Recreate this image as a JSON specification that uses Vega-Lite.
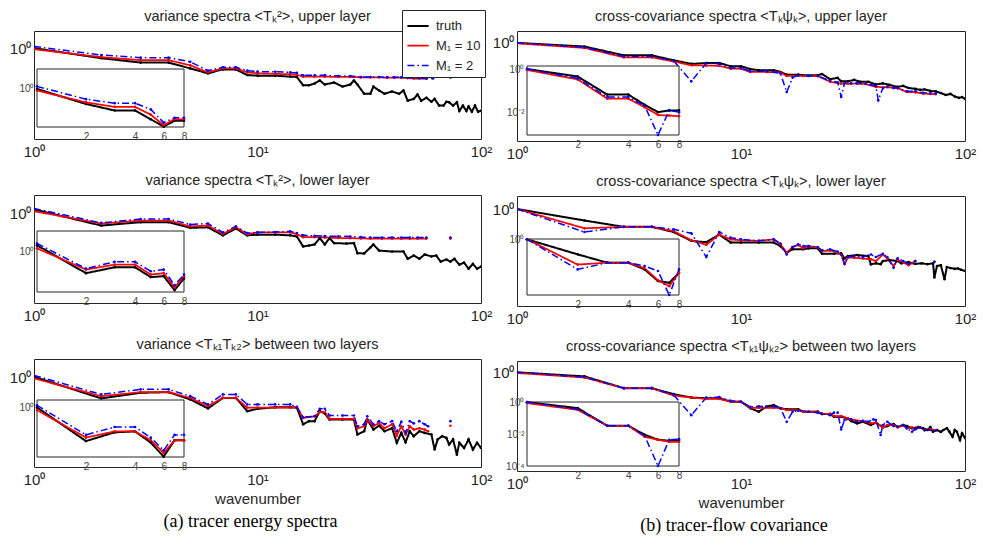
{
"$schema":"https://vega.github.io/schema/vega-lite/v6.json",
"padding":{"left":8,"top":8,"right":2,"bottom":2},
"bounds":"full",
"spacing":-2,
"config":{"font":"Liberation Sans","view":{"stroke":"#262626","strokeWidth":1},
"axis":{"grid":false,"domain":false,"ticks":false,"labelColor":"#262626","titleColor":"#262626","titleFontWeight":"normal","labelFlush":false,"labelOverlap":false},
"title":{"fontSize":14.5,"fontWeight":"normal","color":"#262626","offset":7},
"legend":{"labelColor":"#262626","symbolType":"stroke","symbolSize":450,"symbolStrokeWidth":2}},
"datasets":{
"d1":[{"s":"t","k":1,"v":1},{"s":"t","k":2,"v":0.26},{"s":"t","k":3,"v":0.145},{"s":"t","k":4,"v":0.145},{"s":"t","k":5,"v":0.066},{"s":"t","k":6,"v":0.034},{"s":"t","k":7,"v":0.058},{"s":"t","k":8,"v":0.058},{"s":"t","k":9,"v":0.027},{"s":"t","k":10,"v":0.025},{"s":"t","k":12,"v":0.025},{"s":"t","k":14,"v":0.022},{"s":"t","k":15,"v":0.021},{"s":"t","k":16,"v":0.0069},{"s":"t","k":17,"v":0.0069},{"s":"t","k":18,"v":0.0087},{"s":"t","k":19,"v":0.013},{"s":"t","k":20,"v":0.0076},{"s":"t","k":22,"v":0.01},{"s":"t","k":24,"v":0.0058},{"s":"t","k":26,"v":0.0076},{"s":"t","k":27,"v":0.013},{"s":"t","k":28,"v":0.0076},{"s":"t","k":30,"v":0.0022},{"s":"t","k":32,"v":0.0022},{"s":"t","k":33,"v":0.0058},{"s":"t","k":35,"v":0.0034},{"s":"t","k":37,"v":0.0022},{"s":"t","k":40,"v":0.003},{"s":"t","k":43,"v":0.0022},{"s":"t","k":45,"v":0.0034},{"s":"t","k":47,"v":0.00087},{"s":"t","k":50,"v":0.0011},{"s":"t","k":52,"v":0.002},{"s":"t","k":54,"v":0.00087},{"s":"t","k":57,"v":0.0013},{"s":"t","k":60,"v":0.00076},{"s":"t","k":62,"v":0.0011},{"s":"t","k":65,"v":0.00045},{"s":"t","k":68,"v":0.00045},{"s":"t","k":70,"v":0.00076},{"s":"t","k":72,"v":0.0007},{"s":"t","k":75,"v":0.00045},{"s":"t","k":78,"v":0.0007},{"s":"t","k":80,"v":0.00022},{"s":"t","k":83,"v":0.00045},{"s":"t","k":86,"v":0.00022},{"s":"t","k":88,"v":0.0004},{"s":"t","k":91,"v":0.0002},{"s":"t","k":94,"v":0.00045},{"s":"t","k":97,"v":0.0002},{"s":"t","k":100,"v":0.00022},
{"s":"a","k":1,"v":0.87},{"s":"a","k":2,"v":0.3},{"s":"a","k":3,"v":0.2},{"s":"a","k":4,"v":0.2},{"s":"a","k":5,"v":0.1},{"s":"a","k":6,"v":0.039},{"s":"a","k":7,"v":0.066},{"s":"a","k":8,"v":0.066},{"s":"a","k":9,"v":0.039},{"s":"a","k":10,"v":0.034},{"s":"a","k":12,"v":0.032},{"s":"a","k":14,"v":0.03},{"s":"a","k":15,"v":0.028},{"s":"a","k":16,"v":0.022},{"s":"a","k":18,"v":0.022},{"s":"a","k":20,"v":0.022},{"s":"a","k":23,"v":0.021},{"s":"a","k":26,"v":0.021},{"s":"a","k":29,"v":0.02},{"s":"a","k":32,"v":0.02},{"s":"a","k":35,"v":0.02},{"s":"a","k":38,"v":0.019},{"s":"a","k":41,"v":0.019},{"s":"a","k":44,"v":0.019},{"s":"a","k":47,"v":0.018},{"s":"a","k":50,"v":0.017},{"s":"a","k":53,"v":0.017},{"s":"a","k":57,"v":0.017},{"s":"a","k":73,"v":0.02,"g":1},
{"s":"b","k":1,"v":1.26},{"s":"b","k":2,"v":0.4},{"s":"b","k":3,"v":0.28},{"s":"b","k":4,"v":0.28},{"s":"b","k":5,"v":0.16},{"s":"b","k":6,"v":0.049},{"s":"b","k":7,"v":0.076},{"s":"b","k":8,"v":0.076},{"s":"b","k":9,"v":0.049},{"s":"b","k":10,"v":0.043},{"s":"b","k":12,"v":0.042},{"s":"b","k":14,"v":0.039},{"s":"b","k":15,"v":0.036},{"s":"b","k":16,"v":0.026},{"s":"b","k":18,"v":0.026},{"s":"b","k":20,"v":0.026},{"s":"b","k":23,"v":0.024},{"s":"b","k":26,"v":0.024},{"s":"b","k":29,"v":0.021},{"s":"b","k":32,"v":0.021},{"s":"b","k":35,"v":0.021},{"s":"b","k":38,"v":0.02},{"s":"b","k":41,"v":0.02},{"s":"b","k":44,"v":0.02},{"s":"b","k":47,"v":0.019},{"s":"b","k":50,"v":0.019},{"s":"b","k":53,"v":0.018},{"s":"b","k":57,"v":0.017},{"s":"b","k":61,"v":0.017},{"s":"b","k":73,"v":0.02,"g":1}],
"d2":[{"s":"t","k":1,"v":1.65},{"s":"t","k":2,"v":0.19},{"s":"t","k":3,"v":0.3},{"s":"t","k":4,"v":0.3},{"s":"t","k":5,"v":0.14},{"s":"t","k":6,"v":0.15},{"s":"t","k":7,"v":0.051},{"s":"t","k":8,"v":0.126},{"s":"t","k":9,"v":0.051},{"s":"t","k":10,"v":0.056},{"s":"t","k":12,"v":0.056},{"s":"t","k":14,"v":0.051},{"s":"t","k":15,"v":0.044},{"s":"t","k":16,"v":0.0115},{"s":"t","k":17,"v":0.013},{"s":"t","k":18,"v":0.015},{"s":"t","k":19,"v":0.035},{"s":"t","k":20,"v":0.015},{"s":"t","k":21,"v":0.035},{"s":"t","k":22,"v":0.018},{"s":"t","k":25,"v":0.017},{"s":"t","k":27,"v":0.018},{"s":"t","k":28,"v":0.0046},{"s":"t","k":30,"v":0.0045},{"s":"t","k":32,"v":0.01},{"s":"t","k":33,"v":0.015},{"s":"t","k":35,"v":0.0066},{"s":"t","k":40,"v":0.0058},{"s":"t","k":45,"v":0.0058},{"s":"t","k":47,"v":0.0022},{"s":"t","k":50,"v":0.0034},{"s":"t","k":53,"v":0.0022},{"s":"t","k":56,"v":0.0039},{"s":"t","k":60,"v":0.003},{"s":"t","k":63,"v":0.0034},{"s":"t","k":66,"v":0.0015},{"s":"t","k":70,"v":0.002},{"s":"t","k":73,"v":0.0015},{"s":"t","k":76,"v":0.0022},{"s":"t","k":80,"v":0.001},{"s":"t","k":84,"v":0.0013},{"s":"t","k":88,"v":0.00058},{"s":"t","k":92,"v":0.0011},{"s":"t","k":96,"v":0.00058},{"s":"t","k":100,"v":0.00076},
{"s":"a","k":1,"v":1.3},{"s":"a","k":2,"v":0.25},{"s":"a","k":3,"v":0.37},{"s":"a","k":4,"v":0.37},{"s":"a","k":5,"v":0.17},{"s":"a","k":6,"v":0.19},{"s":"a","k":7,"v":0.062},{"s":"a","k":8,"v":0.15},{"s":"a","k":9,"v":0.06},{"s":"a","k":10,"v":0.076},{"s":"a","k":12,"v":0.076},{"s":"a","k":14,"v":0.076},{"s":"a","k":15,"v":0.06},{"s":"a","k":16,"v":0.04},{"s":"a","k":18,"v":0.04},{"s":"a","k":20,"v":0.038},{"s":"a","k":23,"v":0.036},{"s":"a","k":26,"v":0.035},{"s":"a","k":29,"v":0.034},{"s":"a","k":32,"v":0.033},{"s":"a","k":36,"v":0.033},{"s":"a","k":40,"v":0.033},{"s":"a","k":44,"v":0.033},{"s":"a","k":48,"v":0.033},{"s":"a","k":52,"v":0.033},{"s":"a","k":57,"v":0.033},{"s":"a","k":73,"v":0.033,"g":1},
{"s":"b","k":1,"v":1.9},{"s":"b","k":2,"v":0.27},{"s":"b","k":3,"v":0.46},{"s":"b","k":4,"v":0.46},{"s":"b","k":5,"v":0.22},{"s":"b","k":6,"v":0.25},{"s":"b","k":7,"v":0.075},{"s":"b","k":8,"v":0.17},{"s":"b","k":9,"v":0.069},{"s":"b","k":10,"v":0.076},{"s":"b","k":12,"v":0.08},{"s":"b","k":14,"v":0.087},{"s":"b","k":15,"v":0.07},{"s":"b","k":16,"v":0.051},{"s":"b","k":18,"v":0.048},{"s":"b","k":20,"v":0.046},{"s":"b","k":23,"v":0.045},{"s":"b","k":26,"v":0.044},{"s":"b","k":29,"v":0.04},{"s":"b","k":32,"v":0.038},{"s":"b","k":36,"v":0.038},{"s":"b","k":40,"v":0.038},{"s":"b","k":44,"v":0.038},{"s":"b","k":48,"v":0.038},{"s":"b","k":52,"v":0.038},{"s":"b","k":57,"v":0.038},{"s":"b","k":73,"v":0.038,"g":1}],
"d3":[{"s":"t","k":1,"v":1.05},{"s":"t","k":2,"v":0.056},{"s":"t","k":3,"v":0.12},{"s":"t","k":4,"v":0.13},{"s":"t","k":5,"v":0.049},{"s":"t","k":6,"v":0.0145},{"s":"t","k":7,"v":0.06},{"s":"t","k":8,"v":0.06},{"s":"t","k":9,"v":0.01},{"s":"t","k":10,"v":0.0137},{"s":"t","k":12,"v":0.017},{"s":"t","k":14,"v":0.017},{"s":"t","k":15,"v":0.016},{"s":"t","k":16,"v":0.0017},{"s":"t","k":17,"v":0.0026},{"s":"t","k":18,"v":0.0026},{"s":"t","k":19,"v":0.01},{"s":"t","k":20,"v":0.0073},{"s":"t","k":21,"v":0.0032},{"s":"t","k":24,"v":0.0032},{"s":"t","k":27,"v":0.0032},{"s":"t","k":28,"v":0.00043},{"s":"t","k":30,"v":0.00066},{"s":"t","k":31,"v":0.0032},{"s":"t","k":33,"v":0.00083},{"s":"t","k":35,"v":0.0014},{"s":"t","k":37,"v":0.00066},{"s":"t","k":40,"v":0.001},{"s":"t","k":42,"v":0.00014},{"s":"t","k":44,"v":0.00053},{"s":"t","k":46,"v":0.00015},{"s":"t","k":48,"v":0.00066},{"s":"t","k":50,"v":0.00034},{"s":"t","k":53,"v":0.00066},{"s":"t","k":56,"v":0.00053},{"s":"t","k":60,"v":0.00043},{"s":"t","k":62,"v":0.000056},{"s":"t","k":64,"v":0.00022},{"s":"t","k":67,"v":0.00034},{"s":"t","k":70,"v":0.00027},{"s":"t","k":72,"v":0.00011},{"s":"t","k":75,"v":0.00022},{"s":"t","k":78,"v":0.000028},{"s":"t","k":80,"v":0.00014},{"s":"t","k":84,"v":0.000069},{"s":"t","k":88,"v":0.00022},{"s":"t","k":92,"v":0.000056},{"s":"t","k":96,"v":0.00014},{"s":"t","k":100,"v":0.000069},
{"s":"a","k":1,"v":0.83},{"s":"a","k":2,"v":0.076},{"s":"a","k":3,"v":0.13},{"s":"a","k":4,"v":0.13},{"s":"a","k":5,"v":0.06},{"s":"a","k":6,"v":0.02},{"s":"a","k":7,"v":0.06},{"s":"a","k":8,"v":0.06},{"s":"a","k":9,"v":0.016},{"s":"a","k":10,"v":0.016},{"s":"a","k":12,"v":0.016},{"s":"a","k":14,"v":0.016},{"s":"a","k":15,"v":0.017},{"s":"a","k":16,"v":0.004},{"s":"a","k":18,"v":0.005},{"s":"a","k":19,"v":0.0087},{"s":"a","k":20,"v":0.0087},{"s":"a","k":21,"v":0.0035},{"s":"a","k":24,"v":0.0035},{"s":"a","k":27,"v":0.0035},{"s":"a","k":28,"v":0.001},{"s":"a","k":30,"v":0.0013},{"s":"a","k":31,"v":0.0032},{"s":"a","k":33,"v":0.0013},{"s":"a","k":35,"v":0.002},{"s":"a","k":37,"v":0.001},{"s":"a","k":40,"v":0.0017},{"s":"a","k":42,"v":0.00037},{"s":"a","k":44,"v":0.0013},{"s":"a","k":46,"v":0.00043},{"s":"a","k":48,"v":0.0013},{"s":"a","k":50,"v":0.00083},{"s":"a","k":53,"v":0.001},{"s":"a","k":56,"v":0.00083},{"s":"a","k":58,"v":0.00066},{"s":"a","k":73,"v":0.0014,"g":1},
{"s":"b","k":1,"v":1.26},{"s":"b","k":2,"v":0.096},{"s":"b","k":3,"v":0.19},{"s":"b","k":4,"v":0.19},{"s":"b","k":5,"v":0.076},{"s":"b","k":6,"v":0.025},{"s":"b","k":7,"v":0.096},{"s":"b","k":8,"v":0.096},{"s":"b","k":9,"v":0.025},{"s":"b","k":10,"v":0.025},{"s":"b","k":12,"v":0.025},{"s":"b","k":14,"v":0.025},{"s":"b","k":15,"v":0.018},{"s":"b","k":16,"v":0.0044},{"s":"b","k":18,"v":0.005},{"s":"b","k":19,"v":0.0137},{"s":"b","k":20,"v":0.0137},{"s":"b","k":21,"v":0.0056},{"s":"b","k":24,"v":0.0056},{"s":"b","k":27,"v":0.0056},{"s":"b","k":28,"v":0.0013},{"s":"b","k":30,"v":0.0017},{"s":"b","k":31,"v":0.005},{"s":"b","k":33,"v":0.0017},{"s":"b","k":35,"v":0.0026},{"s":"b","k":37,"v":0.0017},{"s":"b","k":40,"v":0.0026},{"s":"b","k":42,"v":0.00066},{"s":"b","k":44,"v":0.0024},{"s":"b","k":46,"v":0.00053},{"s":"b","k":48,"v":0.0026},{"s":"b","k":50,"v":0.0019},{"s":"b","k":53,"v":0.0026},{"s":"b","k":56,"v":0.0017},{"s":"b","k":58,"v":0.0013},{"s":"b","k":73,"v":0.0026,"g":1}],
"d4":[{"s":"t","k":1,"v":1},{"s":"t","k":2,"v":0.45},{"s":"t","k":3,"v":0.065},{"s":"t","k":4,"v":0.065},{"s":"t","k":5,"v":0.022},{"s":"t","k":6,"v":0.01},{"s":"t","k":7,"v":0.012},{"s":"t","k":8,"v":0.012},{"s":"t","k":9,"v":0.006},{"s":"t","k":10,"v":0.006},{"s":"t","k":11,"v":0.0032},{"s":"t","k":12,"v":0.0025},{"s":"t","k":14,"v":0.0025},{"s":"t","k":15,"v":0.0017},{"s":"t","k":16,"v":0.00095},{"s":"t","k":18,"v":0.00095},{"s":"t","k":19,"v":0.00083},{"s":"t","k":22,"v":0.00083},{"s":"t","k":23,"v":0.0011},{"s":"t","k":25,"v":0.00035},{"s":"t","k":27,"v":0.00047},{"s":"t","k":28,"v":0.00022},{"s":"t","k":30,"v":0.00022},{"s":"t","k":32,"v":0.0003},{"s":"t","k":34,"v":0.0002},{"s":"t","k":37,"v":0.0002},{"s":"t","k":40,"v":0.00011},{"s":"t","k":43,"v":0.00014},{"s":"t","k":46,"v":0.0001},{"s":"t","k":50,"v":0.000065},{"s":"t","k":53,"v":0.00008},{"s":"t","k":56,"v":0.000051},{"s":"t","k":60,"v":0.000042},{"s":"t","k":63,"v":0.000034},{"s":"t","k":66,"v":0.000037},{"s":"t","k":70,"v":0.000027},{"s":"t","k":74,"v":0.000024},{"s":"t","k":78,"v":0.000017},{"s":"t","k":82,"v":0.000011},{"s":"t","k":86,"v":0.000014},{"s":"t","k":90,"v":0.0000079},{"s":"t","k":94,"v":0.0000058},{"s":"t","k":97,"v":0.0000069},{"s":"t","k":100,"v":0.0000047},
{"s":"a","k":1,"v":0.9},{"s":"a","k":2,"v":0.33},{"s":"a","k":3,"v":0.042},{"s":"a","k":4,"v":0.042},{"s":"a","k":5,"v":0.017},{"s":"a","k":6,"v":0.0074},{"s":"a","k":7,"v":0.0069},{"s":"a","k":8,"v":0.0065},{"s":"a","k":9,"v":0.0035},{"s":"a","k":10,"v":0.0035},{"s":"a","k":11,"v":0.0017},{"s":"a","k":13,"v":0.0017},{"s":"a","k":15,"v":0.0015},{"s":"a","k":16,"v":0.00072},{"s":"a","k":19,"v":0.00072},{"s":"a","k":22,"v":0.0007},{"s":"a","k":25,"v":0.0002},{"s":"a","k":28,"v":0.00013},{"s":"a","k":30,"v":0.00013},{"s":"a","k":33,"v":0.00013},{"s":"a","k":36,"v":0.00012},{"s":"a","k":40,"v":0.000065},{"s":"a","k":45,"v":0.00006},{"s":"a","k":50,"v":0.00005},{"s":"a","k":55,"v":0.000021},{"s":"a","k":60,"v":0.00002},{"s":"a","k":65,"v":0.000015},{"s":"a","k":70,"v":0.000014},{"s":"a","k":74,"v":0.000013},
{"s":"b","k":1,"v":1},{"s":"b","k":2,"v":0.37},{"s":"b","k":3,"v":0.05},{"s":"b","k":4,"v":0.05},{"s":"b","k":5,"v":0.02},{"s":"b","k":6,"v":0.00022},{"s":"b","k":7,"v":0.012},{"s":"b","k":8,"v":0.01},{"s":"b","k":9,"v":0.004},{"s":"b","k":10,"v":0.004},{"s":"b","k":11,"v":0.002},{"s":"b","k":13,"v":0.002},{"s":"b","k":14,"v":0.0017},{"s":"b","k":15,"v":0.0012},{"s":"b","k":16,"v":0.000021},{"s":"b","k":17,"v":0.0005},{"s":"b","k":18,"v":0.0008},{"s":"b","k":20,"v":0.0007},{"s":"b","k":22,"v":0.0007},{"s":"b","k":25,"v":0.00025},{"s":"b","k":27,"v":0.00018},{"s":"b","k":28,"v":0.0000072},{"s":"b","k":29,"v":0.00015},{"s":"b","k":31,"v":0.00014},{"s":"b","k":33,"v":0.00015},{"s":"b","k":36,"v":0.00013},{"s":"b","k":38,"v":0.0001},{"s":"b","k":40,"v":0.00008},{"s":"b","k":41,"v":0.0000035},{"s":"b","k":43,"v":0.00005},{"s":"b","k":45,"v":0.00007},{"s":"b","k":48,"v":0.00005},{"s":"b","k":50,"v":0.00005},{"s":"b","k":55,"v":0.000025},{"s":"b","k":60,"v":0.000025},{"s":"b","k":65,"v":0.000018},{"s":"b","k":70,"v":0.000016},{"s":"b","k":74,"v":0.000015}],
"d5":[{"s":"t","k":1,"v":1},{"s":"t","k":2,"v":0.1},{"s":"t","k":3,"v":0.028},{"s":"t","k":4,"v":0.028},{"s":"t","k":5,"v":0.01},{"s":"t","k":6,"v":0.0017},{"s":"t","k":7,"v":0.0013},{"s":"t","k":8,"v":0.0059},{"s":"t","k":9,"v":0.0012},{"s":"t","k":10,"v":0.0012},{"s":"t","k":12,"v":0.0012},{"s":"t","k":14,"v":0.0012},{"s":"t","k":15,"v":0.0006},{"s":"t","k":16,"v":0.00016},{"s":"t","k":17,"v":0.00032},{"s":"t","k":19,"v":0.00032},{"s":"t","k":20,"v":0.00038},{"s":"t","k":22,"v":0.00038},{"s":"t","k":23,"v":0.00013},{"s":"t","k":26,"v":0.00013},{"s":"t","k":28,"v":0.00014},{"s":"t","k":29,"v":0.000051},{"s":"t","k":30,"v":0.000081},{"s":"t","k":33,"v":0.0001},{"s":"t","k":37,"v":0.000081},{"s":"t","k":38,"v":0.0000155},{"s":"t","k":40,"v":0.000019},{"s":"t","k":42,"v":0.000016},{"s":"t","k":43,"v":0.00003},{"s":"t","k":46,"v":0.000036},{"s":"t","k":50,"v":0.00003},{"s":"t","k":52,"v":0.000019},{"s":"t","k":56,"v":0.000024},{"s":"t","k":60,"v":0.000017},{"s":"t","k":64,"v":0.000019},{"s":"t","k":68,"v":0.000016},{"s":"t","k":72,"v":0.000019},{"s":"t","k":73,"v":0.0000011},{"s":"t","k":75,"v":0.000011},{"s":"t","k":78,"v":0.000013},{"s":"t","k":81,"v":0.00000078},{"s":"t","k":83,"v":0.0000091},{"s":"t","k":86,"v":0.0000074},{"s":"t","k":90,"v":0.0000063},{"s":"t","k":93,"v":0.0000068},{"s":"t","k":96,"v":0.0000052},{"s":"t","k":100,"v":0.0000041},
{"s":"a","k":1,"v":1},{"s":"a","k":2,"v":0.021},{"s":"a","k":3,"v":0.028},{"s":"a","k":4,"v":0.028},{"s":"a","k":5,"v":0.012},{"s":"a","k":6,"v":0.0019},{"s":"a","k":7,"v":0.00077},{"s":"a","k":8,"v":0.0059},{"s":"a","k":9,"v":0.0023},{"s":"a","k":10,"v":0.0019},{"s":"a","k":12,"v":0.0017},{"s":"a","k":14,"v":0.0023},{"s":"a","k":15,"v":0.00085},{"s":"a","k":16,"v":0.00016},{"s":"a","k":17,"v":0.0005},{"s":"a","k":18,"v":0.00074},{"s":"a","k":19,"v":0.00038},{"s":"a","k":20,"v":0.0006},{"s":"a","k":22,"v":0.00045},{"s":"a","k":23,"v":0.00022},{"s":"a","k":25,"v":0.00025},{"s":"a","k":27,"v":0.00016},{"s":"a","k":28,"v":0.00011},{"s":"a","k":29,"v":0.000017},{"s":"a","k":30,"v":0.000058},{"s":"a","k":32,"v":0.000058},{"s":"a","k":35,"v":0.00005},{"s":"a","k":38,"v":0.000043},{"s":"a","k":40,"v":0.00003},{"s":"a","k":43,"v":0.00011},{"s":"a","k":45,"v":0.000051},{"s":"a","k":48,"v":0.000011},{"s":"a","k":50,"v":0.000038},{"s":"a","k":53,"v":0.000022},{"s":"a","k":56,"v":0.000013},{"s":"a","k":60,"v":0.00003},{"s":"a","k":73,"v":0.000026,"g":1},
{"s":"b","k":1,"v":1},{"s":"b","k":2,"v":0.01},{"s":"b","k":3,"v":0.028},{"s":"b","k":4,"v":0.028},{"s":"b","k":5,"v":0.017},{"s":"b","k":6,"v":0.0078},{"s":"b","k":7,"v":0.000067},{"s":"b","k":8,"v":0.01},{"s":"b","k":9,"v":0.0032},{"s":"b","k":10,"v":0.0023},{"s":"b","k":12,"v":0.0017},{"s":"b","k":14,"v":0.0023},{"s":"b","k":15,"v":0.001},{"s":"b","k":16,"v":0.00011},{"s":"b","k":17,"v":0.0005},{"s":"b","k":18,"v":0.00085},{"s":"b","k":19,"v":0.0006},{"s":"b","k":20,"v":0.0006},{"s":"b","k":22,"v":0.0005},{"s":"b","k":23,"v":0.00025},{"s":"b","k":25,"v":0.00031},{"s":"b","k":27,"v":0.0002},{"s":"b","k":28,"v":0.00011},{"s":"b","k":29,"v":0.000017},{"s":"b","k":30,"v":0.000067},{"s":"b","k":32,"v":0.000081},{"s":"b","k":35,"v":0.000067},{"s":"b","k":38,"v":0.00011},{"s":"b","k":40,"v":0.000067},{"s":"b","k":43,"v":0.00013},{"s":"b","k":45,"v":0.000067},{"s":"b","k":48,"v":0.0000078},{"s":"b","k":50,"v":0.000051},{"s":"b","k":53,"v":0.00003},{"s":"b","k":56,"v":0.000017},{"s":"b","k":60,"v":0.00003},{"s":"b","k":73,"v":0.000026,"g":1}],
"d6":[{"s":"t","k":1,"v":1},{"s":"t","k":2,"v":0.42},{"s":"t","k":3,"v":0.033},{"s":"t","k":4,"v":0.033},{"s":"t","k":5,"v":0.0091},{"s":"t","k":6,"v":0.0044},{"s":"t","k":7,"v":0.0038},{"s":"t","k":8,"v":0.0038},{"s":"t","k":9,"v":0.0018},{"s":"t","k":10,"v":0.0018},{"s":"t","k":11,"v":0.00044},{"s":"t","k":12,"v":0.00021},{"s":"t","k":13,"v":0.00062},{"s":"t","k":14,"v":0.00088},{"s":"t","k":15,"v":0.00044},{"s":"t","k":16,"v":0.00035},{"s":"t","k":18,"v":0.00035},{"s":"t","k":19,"v":0.00021},{"s":"t","k":22,"v":0.00021},{"s":"t","k":23,"v":0.00013},{"s":"t","k":25,"v":0.00013},{"s":"t","k":26,"v":0.00007},{"s":"t","k":28,"v":0.00007},{"s":"t","k":30,"v":0.00005},{"s":"t","k":31,"v":0.000028},{"s":"t","k":33,"v":0.000017},{"s":"t","k":35,"v":0.000024},{"s":"t","k":38,"v":0.000012},{"s":"t","k":40,"v":0.00002},{"s":"t","k":43,"v":0.0000072},{"s":"t","k":45,"v":0.0000095},{"s":"t","k":48,"v":0.000015},{"s":"t","k":50,"v":0.0000076},{"s":"t","k":53,"v":0.000012},{"s":"t","k":55,"v":0.0000095},{"s":"t","k":58,"v":0.0000059},{"s":"t","k":62,"v":0.0000076},{"s":"t","k":65,"v":0.0000059},{"s":"t","k":68,"v":0.0000041},{"s":"t","k":70,"v":0.0000076},{"s":"t","k":72,"v":0.0000028},{"s":"t","k":75,"v":0.0000041},{"s":"t","k":78,"v":0.0000027},{"s":"t","k":80,"v":0.0000041},{"s":"t","k":83,"v":0.0000059},{"s":"t","k":85,"v":0.000003},{"s":"t","k":88,"v":0.00000095},{"s":"t","k":90,"v":0.0000041},{"s":"t","k":92,"v":0.0000028},{"s":"t","k":95,"v":0.00000047},{"s":"t","k":97,"v":0.000002},{"s":"t","k":100,"v":0.00000072},
{"s":"a","k":1,"v":0.87},{"s":"a","k":2,"v":0.33},{"s":"a","k":3,"v":0.033},{"s":"a","k":4,"v":0.033},{"s":"a","k":5,"v":0.0068},{"s":"a","k":6,"v":0.0044},{"s":"a","k":7,"v":0.0033},{"s":"a","k":8,"v":0.0033},{"s":"a","k":9,"v":0.0018},{"s":"a","k":10,"v":0.0018},{"s":"a","k":11,"v":0.00049},{"s":"a","k":12,"v":0.00049},{"s":"a","k":14,"v":0.00049},{"s":"a","k":15,"v":0.00044},{"s":"a","k":16,"v":0.0003},{"s":"a","k":18,"v":0.0003},{"s":"a","k":19,"v":0.00021},{"s":"a","k":22,"v":0.00021},{"s":"a","k":23,"v":0.00013},{"s":"a","k":25,"v":0.00013},{"s":"a","k":26,"v":0.000082},{"s":"a","k":28,"v":0.000082},{"s":"a","k":30,"v":0.00005},{"s":"a","k":32,"v":0.000035},{"s":"a","k":35,"v":0.000028},{"s":"a","k":38,"v":0.000017},{"s":"a","k":40,"v":0.00002},{"s":"a","k":43,"v":0.0000072},{"s":"a","k":45,"v":0.000012},{"s":"a","k":48,"v":0.000011},{"s":"a","k":50,"v":0.0000072},{"s":"a","k":53,"v":0.000011},{"s":"a","k":55,"v":0.0000059},{"s":"a","k":58,"v":0.0000072},{"s":"a","k":60,"v":0.0000049},{"s":"a","k":63,"v":0.0000072},{"s":"a","k":66,"v":0.0000041},{"s":"a","k":70,"v":0.0000049},{"s":"a","k":74,"v":0.0000038},
{"s":"b","k":1,"v":1},{"s":"b","k":2,"v":0.36},{"s":"b","k":3,"v":0.033},{"s":"b","k":4,"v":0.033},{"s":"b","k":5,"v":0.0079},{"s":"b","k":6,"v":0.0001},{"s":"b","k":7,"v":0.0044},{"s":"b","k":8,"v":0.0048},{"s":"b","k":9,"v":0.0022},{"s":"b","k":10,"v":0.0018},{"s":"b","k":11,"v":0.0006},{"s":"b","k":12,"v":0.00066},{"s":"b","k":13,"v":0.0006},{"s":"b","k":14,"v":0.00066},{"s":"b","k":15,"v":0.00044},{"s":"b","k":16,"v":0.000024},{"s":"b","k":17,"v":0.00021},{"s":"b","k":18,"v":0.00026},{"s":"b","k":20,"v":0.00021},{"s":"b","k":22,"v":0.00017},{"s":"b","k":23,"v":0.00013},{"s":"b","k":25,"v":0.0001},{"s":"b","k":26,"v":0.00017},{"s":"b","k":27,"v":0.00017},{"s":"b","k":28,"v":0.0000047},{"s":"b","k":29,"v":0.000035},{"s":"b","k":31,"v":0.00004},{"s":"b","k":33,"v":0.000024},{"s":"b","k":35,"v":0.00003},{"s":"b","k":37,"v":0.000024},{"s":"b","k":39,"v":0.00004},{"s":"b","k":40,"v":0.000035},{"s":"b","k":42,"v":0.0000014},{"s":"b","k":43,"v":0.000012},{"s":"b","k":45,"v":0.000024},{"s":"b","k":48,"v":0.0000095},{"s":"b","k":50,"v":0.0000085},{"s":"b","k":53,"v":0.000012},{"s":"b","k":55,"v":0.0000059},{"s":"b","k":58,"v":0.0000028},{"s":"b","k":60,"v":0.0000049},{"s":"b","k":63,"v":0.0000072},{"s":"b","k":66,"v":0.0000038},{"s":"b","k":70,"v":0.0000041},{"s":"b","k":74,"v":0.0000038}]
},
"hconcat":[
{"bounds":"flush","spacing":56,
"title":{"text":"(a) tracer energy spectra","orient":"bottom","font":"Liberation Serif","fontSize":18,"color":"#000000","offset":6,"anchor":"middle"},
"vconcat":[
{"width":447,"height":108,"title":"variance spectra <Tₖ²>, upper layer","resolve":{"scale":{"x":"independent","y":"independent"}},
"layer":[
{"data":{"name":"d1"},
"encoding":{"x":{"field":"k","type":"quantitative","scale":{"type":"log","domain":[1,100],"nice":false},"axis":{"values":[1,10,100],"labelExpr":"datum.value == 1 ? '10⁰' : datum.value == 10 ? '10¹' : '10²'","title":null,"labelFontSize":15,"labelPadding":5}},
"y":{"field":"v","type":"quantitative","scale":{"type":"log","domain":[5.1e-6,10],"nice":false},"axis":{"values":[1],"labelExpr":"'10⁰'","title":null,"labelFontSize":15,"labelPadding":3}}},
"layer":[
{"mark":{"type":"line","clip":true},"encoding":{"color":{"field":"s","type":"nominal","scale":{"domain":["t","a","b"],"range":["#000000","#ff0000","#0000ff"]},"legend":{"orient":"none","legendX":368,"legendY":-21,"title":null,"symbolType":"stroke","symbolSize":450,"symbolStrokeWidth":2,"labelFontSize":13,"labelExpr":"datum.label == 't' ? 'truth' : datum.label == 'a' ? 'M₁ = 10' : 'M₁ = 2'","strokeColor":"#262626","fillColor":"white","padding":4,"rowPadding":1,"labelOffset":6}},"strokeDash":{"field":"s","type":"nominal","scale":{"domain":["t","a","b"],"range":[[1,0],[1,0],[7,3,1.5,3]]},"legend":{"orient":"none","legendX":368,"legendY":-21,"title":null,"symbolType":"stroke","symbolSize":450,"symbolStrokeWidth":2,"labelFontSize":13,"labelExpr":"datum.label == 't' ? 'truth' : datum.label == 'a' ? 'M₁ = 10' : 'M₁ = 2'","strokeColor":"#262626","fillColor":"white","padding":4,"rowPadding":1,"labelOffset":6}},"strokeWidth":{"field":"s","type":"ordinal","scale":{"domain":["t","a","b"],"range":[2,1.5,1.5]},"legend":null},"detail":{"field":"g","type":"nominal"}}},
{"mark":{"type":"point","filled":true,"opacity":1,"clip":true,"size":7},"encoding":{"color":{"field":"s","type":"nominal","scale":{"domain":["t","a","b"],"range":["#000000","#ff0000","#0000ff"]},"legend":null}}}]},
{"layer":[
{"data":{"values":[{"f":1}]},"mark":{"type":"rect","fill":"white","stroke":"#262626","strokeWidth":1},
"encoding":{"x":{"datum":1,"type":"quantitative","scale":{"type":"log","domain":[1,8],"range":[3,150],"nice":false},"axis":{"orient":"bottom","offset":-12,"values":[2,4,6,8],"title":null,"labelFontSize":10,"labelPadding":4,"labelColor":"#444444","zindex":1}},"x2":{"datum":8},
"y":{"datum":0.033,"type":"quantitative","scale":{"type":"log","domain":[0.033,6],"range":[96,38],"nice":false,"clamp":true},"axis":{"orient":"left","offset":-3,"values":[1],"labelExpr":"'10⁰'","title":null,"labelFontSize":10,"labelPadding":3,"labelColor":"#444444","zindex":1}},"y2":{"datum":6}}},
{"data":{"name":"d1"},"transform":[{"filter":"datum.k <= 8"}],
"encoding":{"x":{"field":"k","type":"quantitative","scale":{"type":"log","domain":[1,8],"range":[3,150],"nice":false},"axis":{"orient":"bottom","offset":-12,"values":[2,4,6,8],"title":null,"labelFontSize":10,"labelPadding":4,"labelColor":"#444444","zindex":1}},"y":{"field":"v","type":"quantitative","scale":{"type":"log","domain":[0.033,6],"range":[96,38],"nice":false,"clamp":true},"axis":{"orient":"left","offset":-3,"values":[1],"labelExpr":"'10⁰'","title":null,"labelFontSize":10,"labelPadding":3,"labelColor":"#444444","zindex":1}},"color":{"field":"s","type":"nominal","scale":{"domain":["t","a","b"],"range":["#000000","#ff0000","#0000ff"]},"legend":null}},
"layer":[{"mark":"line","encoding":{"strokeDash":{"field":"s","type":"nominal","scale":{"domain":["t","a","b"],"range":[[1,0],[1,0],[7,3,1.5,3]]},"legend":null},"strokeWidth":{"field":"s","type":"ordinal","scale":{"domain":["t","a","b"],"range":[2,1.5,1.5]},"legend":null}}},
{"mark":{"type":"point","filled":true,"opacity":1,"size":7}}]}]}]},
{"width":447,"height":108,"title":"variance spectra <Tₖ²>, lower layer","resolve":{"scale":{"x":"independent","y":"independent"}},
"layer":[
{"data":{"name":"d2"},
"encoding":{"x":{"field":"k","type":"quantitative","scale":{"type":"log","domain":[1,100],"nice":false},"axis":{"values":[1,10,100],"labelExpr":"datum.value == 1 ? '10⁰' : datum.value == 10 ? '10¹' : '10²'","title":null,"labelFontSize":15,"labelPadding":5}},
"y":{"field":"v","type":"quantitative","scale":{"type":"log","domain":[5.8e-6,11.5],"nice":false},"axis":{"values":[1],"labelExpr":"'10⁰'","title":null,"labelFontSize":15,"labelPadding":3}},
"color":{"field":"s","type":"nominal","scale":{"domain":["t","a","b"],"range":["#000000","#ff0000","#0000ff"]},"legend":null}},
"layer":[
{"mark":{"type":"line","clip":true},"encoding":{"strokeDash":{"field":"s","type":"nominal","scale":{"domain":["t","a","b"],"range":[[1,0],[1,0],[7,3,1.5,3]]},"legend":null},"strokeWidth":{"field":"s","type":"ordinal","scale":{"domain":["t","a","b"],"range":[2,1.5,1.5]},"legend":null},"detail":{"field":"g","type":"nominal"}}},
{"mark":{"type":"point","filled":true,"opacity":1,"clip":true,"size":7}}]},
{"layer":[
{"data":{"values":[{"f":1}]},"mark":{"type":"rect","fill":"white","stroke":"#262626","strokeWidth":1},
"encoding":{"x":{"datum":1,"type":"quantitative","scale":{"type":"log","domain":[1,8],"range":[3,150],"nice":false},"axis":{"orient":"bottom","offset":-11,"values":[2,4,6,8],"title":null,"labelFontSize":10,"labelPadding":4,"labelColor":"#444444","zindex":1}},"x2":{"datum":8},
"y":{"datum":0.044,"type":"quantitative","scale":{"type":"log","domain":[0.044,5],"range":[97,36],"nice":false,"clamp":true},"axis":{"orient":"left","offset":-3,"values":[1],"labelExpr":"'10⁰'","title":null,"labelFontSize":10,"labelPadding":3,"labelColor":"#444444","zindex":1}},"y2":{"datum":5}}},
{"data":{"name":"d2"},"transform":[{"filter":"datum.k <= 8"}],
"encoding":{"x":{"field":"k","type":"quantitative","scale":{"type":"log","domain":[1,8],"range":[3,150],"nice":false},"axis":{"orient":"bottom","offset":-11,"values":[2,4,6,8],"title":null,"labelFontSize":10,"labelPadding":4,"labelColor":"#444444","zindex":1}},"y":{"field":"v","type":"quantitative","scale":{"type":"log","domain":[0.044,5],"range":[97,36],"nice":false,"clamp":true},"axis":{"orient":"left","offset":-3,"values":[1],"labelExpr":"'10⁰'","title":null,"labelFontSize":10,"labelPadding":3,"labelColor":"#444444","zindex":1}},"color":{"field":"s","type":"nominal","scale":{"domain":["t","a","b"],"range":["#000000","#ff0000","#0000ff"]},"legend":null}},
"layer":[{"mark":"line","encoding":{"strokeDash":{"field":"s","type":"nominal","scale":{"domain":["t","a","b"],"range":[[1,0],[1,0],[7,3,1.5,3]]},"legend":null},"strokeWidth":{"field":"s","type":"ordinal","scale":{"domain":["t","a","b"],"range":[2,1.5,1.5]},"legend":null}}},
{"mark":{"type":"point","filled":true,"opacity":1,"size":7}}]}]}]},
{"width":447,"height":108,"title":"variance <Tₖ₁Tₖ₂> between two layers","resolve":{"scale":{"x":"independent","y":"independent"}},
"layer":[
{"data":{"name":"d3"},
"encoding":{"x":{"field":"k","type":"quantitative","scale":{"type":"log","domain":[1,100],"nice":false},"axis":{"values":[1,10,100],"labelExpr":"datum.value == 1 ? '10⁰' : datum.value == 10 ? '10¹' : '10²'","title":"wavenumber","titleFontSize":15,"titlePadding":4,"labelFontSize":15,"labelPadding":5}},
"y":{"field":"v","type":"quantitative","scale":{"type":"log","domain":[5.3e-6,11.5],"nice":false},"axis":{"values":[1],"labelExpr":"'10⁰'","title":null,"labelFontSize":15,"labelPadding":3}},
"color":{"field":"s","type":"nominal","scale":{"domain":["t","a","b"],"range":["#000000","#ff0000","#0000ff"]},"legend":null}},
"layer":[
{"mark":{"type":"line","clip":true},"encoding":{"strokeDash":{"field":"s","type":"nominal","scale":{"domain":["t","a","b"],"range":[[1,0],[1,0],[7,3,1.5,3]]},"legend":null},"strokeWidth":{"field":"s","type":"ordinal","scale":{"domain":["t","a","b"],"range":[2,1.5,1.5]},"legend":null},"detail":{"field":"g","type":"nominal"}}},
{"mark":{"type":"point","filled":true,"opacity":1,"clip":true,"size":7}}]},
{"layer":[
{"data":{"values":[{"f":1}]},"mark":{"type":"rect","fill":"white","stroke":"#262626","strokeWidth":1},
"encoding":{"x":{"datum":1,"type":"quantitative","scale":{"type":"log","domain":[1,8],"range":[3,150],"nice":false},"axis":{"orient":"bottom","offset":-10,"values":[2,4,6,8],"title":null,"labelFontSize":10,"labelPadding":4,"labelColor":"#444444","zindex":1}},"x2":{"datum":8},
"y":{"datum":0.014,"type":"quantitative","scale":{"type":"log","domain":[0.014,2],"range":[98,41],"nice":false,"clamp":true},"axis":{"orient":"left","offset":-3,"values":[1],"labelExpr":"'10⁰'","title":null,"labelFontSize":10,"labelPadding":3,"labelColor":"#444444","zindex":1}},"y2":{"datum":2}}},
{"data":{"name":"d3"},"transform":[{"filter":"datum.k <= 8"}],
"encoding":{"x":{"field":"k","type":"quantitative","scale":{"type":"log","domain":[1,8],"range":[3,150],"nice":false},"axis":{"orient":"bottom","offset":-10,"values":[2,4,6,8],"title":null,"labelFontSize":10,"labelPadding":4,"labelColor":"#444444","zindex":1}},"y":{"field":"v","type":"quantitative","scale":{"type":"log","domain":[0.014,2],"range":[98,41],"nice":false,"clamp":true},"axis":{"orient":"left","offset":-3,"values":[1],"labelExpr":"'10⁰'","title":null,"labelFontSize":10,"labelPadding":3,"labelColor":"#444444","zindex":1}},"color":{"field":"s","type":"nominal","scale":{"domain":["t","a","b"],"range":["#000000","#ff0000","#0000ff"]},"legend":null}},
"layer":[{"mark":"line","encoding":{"strokeDash":{"field":"s","type":"nominal","scale":{"domain":["t","a","b"],"range":[[1,0],[1,0],[7,3,1.5,3]]},"legend":null},"strokeWidth":{"field":"s","type":"ordinal","scale":{"domain":["t","a","b"],"range":[2,1.5,1.5]},"legend":null}}},
{"mark":{"type":"point","filled":true,"opacity":1,"size":7}}]}]}]}
]},
{"bounds":"flush","spacing":55,
"title":{"text":"(b) tracer-flow covariance","orient":"bottom","font":"Liberation Serif","fontSize":18,"color":"#000000","offset":6,"anchor":"middle"},
"vconcat":[
{"width":448,"height":110,"title":"cross-covariance spectra <Tₖψₖ>, upper layer","resolve":{"scale":{"x":"independent","y":"independent"}},
"layer":[
{"data":{"name":"d4"},
"encoding":{"x":{"field":"k","type":"quantitative","scale":{"type":"log","domain":[1,100],"nice":false},"axis":{"values":[1,10,100],"labelExpr":"datum.value == 1 ? '10⁰' : datum.value == 10 ? '10¹' : '10²'","title":null,"labelFontSize":15,"labelPadding":5}},
"y":{"field":"v","type":"quantitative","scale":{"type":"log","domain":[4.6e-10,13.5],"nice":false},"axis":{"values":[1],"labelExpr":"'10⁰'","title":null,"labelFontSize":15,"labelPadding":3}},
"color":{"field":"s","type":"nominal","scale":{"domain":["t","a","b"],"range":["#000000","#ff0000","#0000ff"]},"legend":null}},
"layer":[
{"mark":{"type":"line","clip":true},"encoding":{"strokeDash":{"field":"s","type":"nominal","scale":{"domain":["t","a","b"],"range":[[1,0],[1,0],[7,3,1.5,3]]},"legend":null},"strokeWidth":{"field":"s","type":"ordinal","scale":{"domain":["t","a","b"],"range":[2,1.5,1.5]},"legend":null},"detail":{"field":"g","type":"nominal"}}},
{"mark":{"type":"point","filled":true,"opacity":1,"clip":true,"size":7}}]},
{"layer":[
{"data":{"values":[{"f":1}]},"mark":{"type":"rect","fill":"white","stroke":"#262626","strokeWidth":1},
"encoding":{"x":{"datum":1,"type":"quantitative","scale":{"type":"log","domain":[1,8],"range":[10,162],"nice":false},"axis":{"orient":"bottom","offset":-6,"values":[2,4,6,8],"title":null,"labelFontSize":10,"labelPadding":4,"labelColor":"#444444","zindex":1}},"x2":{"datum":8},
"y":{"datum":0.00087,"type":"quantitative","scale":{"type":"log","domain":[0.00087,1.38],"range":[104,35],"nice":false,"clamp":true},"axis":{"orient":"left","offset":-10,"values":[1,0.01],"labelExpr":"datum.value >= 1 ? '10⁰' : '10⁻²'","title":null,"labelFontSize":10,"labelPadding":3,"labelColor":"#444444","zindex":1}},"y2":{"datum":1.38}}},
{"data":{"name":"d4"},"transform":[{"filter":"datum.k <= 8"}],
"encoding":{"x":{"field":"k","type":"quantitative","scale":{"type":"log","domain":[1,8],"range":[10,162],"nice":false},"axis":{"orient":"bottom","offset":-6,"values":[2,4,6,8],"title":null,"labelFontSize":10,"labelPadding":4,"labelColor":"#444444","zindex":1}},"y":{"field":"v","type":"quantitative","scale":{"type":"log","domain":[0.00087,1.38],"range":[104,35],"nice":false,"clamp":true},"axis":{"orient":"left","offset":-10,"values":[1,0.01],"labelExpr":"datum.value >= 1 ? '10⁰' : '10⁻²'","title":null,"labelFontSize":10,"labelPadding":3,"labelColor":"#444444","zindex":1}},"color":{"field":"s","type":"nominal","scale":{"domain":["t","a","b"],"range":["#000000","#ff0000","#0000ff"]},"legend":null}},
"layer":[{"mark":"line","encoding":{"strokeDash":{"field":"s","type":"nominal","scale":{"domain":["t","a","b"],"range":[[1,0],[1,0],[7,3,1.5,3]]},"legend":null},"strokeWidth":{"field":"s","type":"ordinal","scale":{"domain":["t","a","b"],"range":[2,1.5,1.5]},"legend":null}}},
{"mark":{"type":"point","filled":true,"opacity":1,"size":7}}]}]}]},
{"width":448,"height":110,"title":"cross-covariance spectra <Tₖψₖ>, lower layer","resolve":{"scale":{"x":"independent","y":"independent"}},
"layer":[
{"data":{"name":"d5"},
"encoding":{"x":{"field":"k","type":"quantitative","scale":{"type":"log","domain":[1,100],"nice":false},"axis":{"values":[1,10,100],"labelExpr":"datum.value == 1 ? '10⁰' : datum.value == 10 ? '10¹' : '10²'","title":null,"labelFontSize":15,"labelPadding":5}},
"y":{"field":"v","type":"quantitative","scale":{"type":"log","domain":[3.7e-9,13.5],"nice":false},"axis":{"values":[1],"labelExpr":"'10⁰'","title":null,"labelFontSize":15,"labelPadding":3}},
"color":{"field":"s","type":"nominal","scale":{"domain":["t","a","b"],"range":["#000000","#ff0000","#0000ff"]},"legend":null}},
"layer":[
{"mark":{"type":"line","clip":true},"encoding":{"strokeDash":{"field":"s","type":"nominal","scale":{"domain":["t","a","b"],"range":[[1,0],[1,0],[7,3,1.5,3]]},"legend":null},"strokeWidth":{"field":"s","type":"ordinal","scale":{"domain":["t","a","b"],"range":[2,1.5,1.5]},"legend":null},"detail":{"field":"g","type":"nominal"}}},
{"mark":{"type":"point","filled":true,"opacity":1,"clip":true,"size":7}}]},
{"layer":[
{"data":{"values":[{"f":1}]},"mark":{"type":"rect","fill":"white","stroke":"#262626","strokeWidth":1},
"encoding":{"x":{"datum":1,"type":"quantitative","scale":{"type":"log","domain":[1,8],"range":[10,162],"nice":false},"axis":{"orient":"bottom","offset":-11,"values":[2,4,6,8],"title":null,"labelFontSize":10,"labelPadding":4,"labelColor":"#444444","zindex":1}},"x2":{"datum":8},
"y":{"datum":0.0002,"type":"quantitative","scale":{"type":"log","domain":[0.0002,1.05],"range":[99,43],"nice":false,"clamp":true},"axis":{"orient":"left","offset":-10,"values":[1],"labelExpr":"'10⁰'","title":null,"labelFontSize":10,"labelPadding":3,"labelColor":"#444444","zindex":1}},"y2":{"datum":1.05}}},
{"data":{"name":"d5"},"transform":[{"filter":"datum.k <= 8"}],
"encoding":{"x":{"field":"k","type":"quantitative","scale":{"type":"log","domain":[1,8],"range":[10,162],"nice":false},"axis":{"orient":"bottom","offset":-11,"values":[2,4,6,8],"title":null,"labelFontSize":10,"labelPadding":4,"labelColor":"#444444","zindex":1}},"y":{"field":"v","type":"quantitative","scale":{"type":"log","domain":[0.0002,1.05],"range":[99,43],"nice":false,"clamp":true},"axis":{"orient":"left","offset":-10,"values":[1],"labelExpr":"'10⁰'","title":null,"labelFontSize":10,"labelPadding":3,"labelColor":"#444444","zindex":1}},"color":{"field":"s","type":"nominal","scale":{"domain":["t","a","b"],"range":["#000000","#ff0000","#0000ff"]},"legend":null}},
"layer":[{"mark":"line","encoding":{"strokeDash":{"field":"s","type":"nominal","scale":{"domain":["t","a","b"],"range":[[1,0],[1,0],[7,3,1.5,3]]},"legend":null},"strokeWidth":{"field":"s","type":"ordinal","scale":{"domain":["t","a","b"],"range":[2,1.5,1.5]},"legend":null}}},
{"mark":{"type":"point","filled":true,"opacity":1,"size":7}}]}]}]},
{"width":448,"height":110,"title":"cross-covariance spectra <Tₖ₁ψₖ₂> between two layers","resolve":{"scale":{"x":"independent","y":"independent"}},
"layer":[
{"data":{"name":"d6"},
"encoding":{"x":{"field":"k","type":"quantitative","scale":{"type":"log","domain":[1,100],"nice":false},"axis":{"values":[1,10,100],"labelExpr":"datum.value == 1 ? '10⁰' : datum.value == 10 ? '10¹' : '10²'","title":"wavenumber","titleFontSize":15,"titlePadding":4,"labelFontSize":15,"labelPadding":5}},
"y":{"field":"v","type":"quantitative","scale":{"type":"log","domain":[6e-10,11.5],"nice":false},"axis":{"values":[1],"labelExpr":"'10⁰'","title":null,"labelFontSize":15,"labelPadding":3}},
"color":{"field":"s","type":"nominal","scale":{"domain":["t","a","b"],"range":["#000000","#ff0000","#0000ff"]},"legend":null}},
"layer":[
{"mark":{"type":"line","clip":true},"encoding":{"strokeDash":{"field":"s","type":"nominal","scale":{"domain":["t","a","b"],"range":[[1,0],[1,0],[7,3,1.5,3]]},"legend":null},"strokeWidth":{"field":"s","type":"ordinal","scale":{"domain":["t","a","b"],"range":[2,1.5,1.5]},"legend":null},"detail":{"field":"g","type":"nominal"}}},
{"mark":{"type":"point","filled":true,"opacity":1,"clip":true,"size":7}}]},
{"layer":[
{"data":{"values":[{"f":1}]},"mark":{"type":"rect","fill":"white","stroke":"#262626","strokeWidth":1},
"encoding":{"x":{"datum":1,"type":"quantitative","scale":{"type":"log","domain":[1,8],"range":[10,162],"nice":false},"axis":{"orient":"bottom","offset":-5,"values":[2,4,6,8],"title":null,"labelFontSize":10,"labelPadding":4,"labelColor":"#444444","zindex":1}},"x2":{"datum":8},
"y":{"datum":0.0001,"type":"quantitative","scale":{"type":"log","domain":[0.0001,1.02],"range":[105,41],"nice":false,"clamp":true},"axis":{"orient":"left","offset":-10,"values":[1,0.01,0.0001],"labelExpr":"datum.value >= 1 ? '10⁰' : datum.value >= 0.01 ? '10⁻²' : '10⁻⁴'","title":null,"labelFontSize":10,"labelPadding":3,"labelColor":"#444444","zindex":1}},"y2":{"datum":1.02}}},
{"data":{"name":"d6"},"transform":[{"filter":"datum.k <= 8"}],
"encoding":{"x":{"field":"k","type":"quantitative","scale":{"type":"log","domain":[1,8],"range":[10,162],"nice":false},"axis":{"orient":"bottom","offset":-5,"values":[2,4,6,8],"title":null,"labelFontSize":10,"labelPadding":4,"labelColor":"#444444","zindex":1}},"y":{"field":"v","type":"quantitative","scale":{"type":"log","domain":[0.0001,1.02],"range":[105,41],"nice":false,"clamp":true},"axis":{"orient":"left","offset":-10,"values":[1,0.01,0.0001],"labelExpr":"datum.value >= 1 ? '10⁰' : datum.value >= 0.01 ? '10⁻²' : '10⁻⁴'","title":null,"labelFontSize":10,"labelPadding":3,"labelColor":"#444444","zindex":1}},"color":{"field":"s","type":"nominal","scale":{"domain":["t","a","b"],"range":["#000000","#ff0000","#0000ff"]},"legend":null}},
"layer":[{"mark":"line","encoding":{"strokeDash":{"field":"s","type":"nominal","scale":{"domain":["t","a","b"],"range":[[1,0],[1,0],[7,3,1.5,3]]},"legend":null},"strokeWidth":{"field":"s","type":"ordinal","scale":{"domain":["t","a","b"],"range":[2,1.5,1.5]},"legend":null}}},
{"mark":{"type":"point","filled":true,"opacity":1,"size":7}}]}]}]}
]}
]
}
